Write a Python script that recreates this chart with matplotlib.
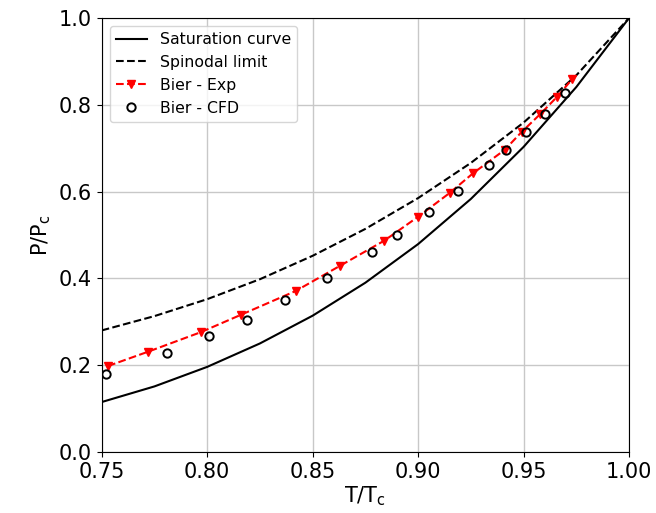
import matplotlib
matplotlib.use('Agg')
import matplotlib.pyplot as plt
import numpy as np

# saturation curve and spinodal limit
t_curve = [0.75, 0.775, 0.80, 0.825, 0.85, 0.875, 0.90, 0.925, 0.95, 0.975, 1.00]
p_sat = [0.115, 0.151, 0.196, 0.250, 0.314, 0.390, 0.479, 0.583, 0.703, 0.841, 1.00]
p_spin = [0.280, 0.313, 0.352, 0.398, 0.452, 0.514, 0.585, 0.666, 0.759, 0.868, 1.00]

# Bier experiments
t_exp = [0.753, 0.772, 0.797, 0.816, 0.842, 0.863, 0.884, 0.900, 0.915, 0.926,
         0.941, 0.949, 0.958, 0.966, 0.973]
p_exp = [0.198, 0.231, 0.276, 0.316, 0.371, 0.429, 0.487, 0.542, 0.597, 0.642,
         0.696, 0.737, 0.779, 0.819, 0.859]

# Bier CFD
t_cfd = [0.752, 0.781, 0.801, 0.819, 0.837, 0.857, 0.878, 0.890, 0.905, 0.919,
         0.9335, 0.9415, 0.951, 0.960, 0.9695]
p_cfd = [0.180, 0.229, 0.267, 0.305, 0.349, 0.400, 0.461, 0.501, 0.554, 0.601,
         0.661, 0.695, 0.737, 0.778, 0.826]

fig = plt.figure(figsize=(6.56, 5.13), dpi=100)
ax = fig.add_axes([0.155, 0.119, 0.804, 0.846])

ax.plot(t_curve, p_sat, 'k-', lw=1.5, label='Saturation curve')
ax.plot(t_curve, p_spin, 'k--', lw=1.5, label='Spinodal limit')
ax.plot(t_exp, p_exp, 'r--v', lw=1.5, ms=6, label='Bier - Exp')
ax.plot(t_cfd, p_cfd, 'o', ls='none', mfc='none', mec='k', mew=1.4, ms=6,
        label='Bier - CFD')

ax.set_xlim(0.75, 1.0)
ax.set_ylim(0.0, 1.0)
ax.set_xticks(np.arange(0.75, 1.001, 0.05))
ax.set_yticks(np.arange(0.0, 1.001, 0.2))
ax.tick_params(labelsize=15)
ax.set_xlabel('T/T$_\\mathregular{c}$', fontsize=15, labelpad=2)
ax.set_ylabel('P/P$_\\mathregular{c}$', fontsize=15)
ax.grid(True, color='#c8c8c8', lw=1.0)
ax.set_axisbelow(True)
ax.legend(loc='upper left', fontsize=11.3)

fig.savefig('out.png', dpi=100)
